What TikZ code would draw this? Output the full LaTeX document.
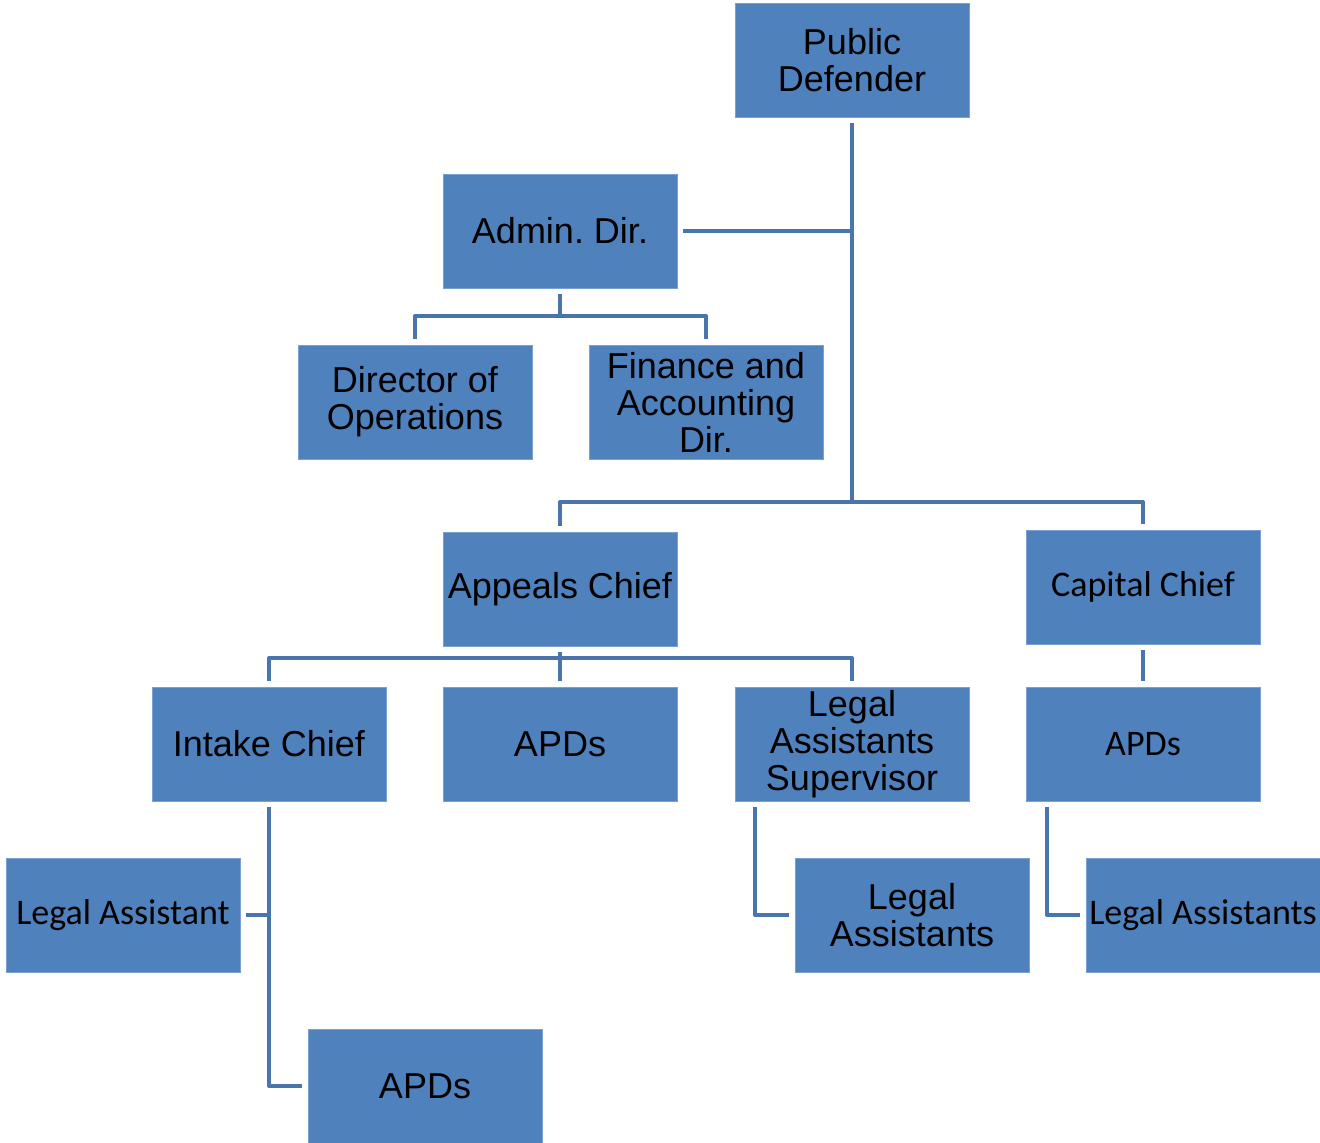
\documentclass[tikz,border=0pt]{standalone}
\usepackage{fontspec}
\setmainfont{Liberation Sans}
\newfontfamily\calibri{Carlito}
\usepackage{tikz}
\frenchspacing

\definecolor{boxfill}{HTML}{4F81BD}
\definecolor{boxedge}{HTML}{7AA0D0}
\definecolor{linkcol}{HTML}{4A74AC}

\tikzset{
  post/.style={rectangle,fill=boxfill,draw=boxedge,line width=1pt,
    minimum width=234pt,minimum height=114pt,inner sep=0pt,outer sep=6pt,
    align=center,font=\fontsize{36}{37}\selectfont},
  postc/.style={post,font=\calibri\fontsize{36}{39}\selectfont},
  link/.style={draw=linkcol,line width=4pt,line join=round}
}

\begin{document}
\begin{tikzpicture}[x=1pt,y=-1pt]

\useasboundingbox (0,0) rectangle (1320,1143);

%---------------------------
% caixas
%---------------------------
\node[post]  (pd)   at (852,60)   {Public\\Defender};
\node[post]  (ad)   at (560,231)  {Admin. Dir.};
\node[post]  (dop)  at (415,402)  {Director of\\Operations};
\node[post]  (fin)  at (706,402)  {Finance and\\Accounting\\Dir.};
\node[post]  (ac)   at (560,589)  {Appeals Chief};
\node[postc] (cc)   at (1143,587) {Capital Chief};
\node[post]  (ic)   at (269,744)  {Intake Chief};
\node[post]  (apd)  at (560,744)  {APDs};
\node[post]  (lsup) at (852,744)  {Legal\\Assistants\\Supervisor};
\node[postc] (capd) at (1143,744) {APDs};
\node[postc] (lasst) at (123,915) {Legal Assistant};
\node[post]  (lasm) at (912,915)  {Legal\\Assistants};
\node[postc] (lasr) at (1203,915) {Legal Assistants};
\node[post]  (apdb) at (425,1086) {APDs};

%---------------------------
% pontos de junção
%---------------------------
\coordinate (split) at (852,502);
\coordinate (adbus) at (560,316);
\coordinate (acbus) at (560,658);

%---------------------------
% ligações
%---------------------------
\draw[link] (pd.south) -- (split);
\draw[link] (ad.east) -- (ad.east -| pd.south);
\draw[link] (ac.north) |- (split) -| (cc.north);

\draw[link] (ad.south) -- (adbus);
\draw[link] (dop.north) |- (adbus) -| (fin.north);

\draw[link] (ac.south) -- (apd.north);
\draw[link] (ic.north) |- (acbus) -| (lsup.north);
\draw[link] (cc.south) -- (capd.north);

\draw[link] (ic.south) |- (apdb.west);
\draw[link] (lasst.east) -- (lasst.east -| ic.south);
\draw[link] ([xshift=26pt]lsup.south west) |- (lasm.west);
\draw[link] ([xshift=27pt]capd.south west) |- (lasr.west);

\end{tikzpicture}
\end{document}
